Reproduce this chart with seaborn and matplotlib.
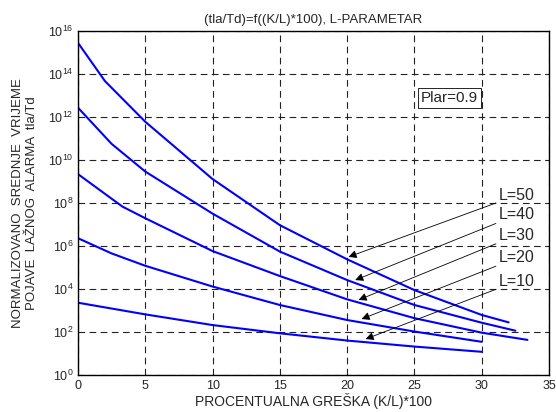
import numpy as np
import pandas as pd
import seaborn as sns
import matplotlib.pyplot as plt
from matplotlib.ticker import FixedLocator, NullLocator

# data (x = K/L*100, y = tla/Td)
x_l50 = [0, 2, 5, 10, 15, 20, 25, 30, 32]
y_l50 = [2.8e15, 4.7e13, 6.0e11, 1.3e9, 9.3e6, 2.4e5, 8.9e3, 6.2e2, 2.8e2]
x_l40 = [0, 2.5, 5, 10, 15, 20, 25, 30, 32.5]
y_l40 = [2.7e12, 5.6e10, 2.9e9, 3.2e7, 5.5e5, 2.6e4, 1.8e3, 2.7e2, 1.15e2]
x_l30 = [0, 3.3, 5, 10, 15, 20, 25, 30, 33.4]
y_l30 = [2.2e9, 6.8e7, 1.95e7, 5.8e5, 4.0e4, 3.3e3, 4.4e2, 93, 43]
x_l20 = [0, 2.5, 5, 10, 15, 20, 25, 30]
y_l20 = [2.3e6, 4.5e5, 1.2e5, 1.3e4, 1.8e3, 3.6e2, 1.05e2, 35]
x_l10 = [0, 5, 10, 15, 20, 25, 30]
y_l10 = [2.3e3, 6.6e2, 2.1e2, 87, 40, 21, 12]

labels = ['L=50', 'L=40', 'L=30', 'L=20', 'L=10']
label_pos = [2.3e8, 2.8e7, 3.2e6, 2.8e5, 2.3e4]
arrow_x = [20.1, 20.6, 20.85, 21.07, 21.37]
arrow_y = [3.1e5, 2.6e4, 3.1e3, 4.0e2, 47]

xs = [x_l50, x_l40, x_l30, x_l20, x_l10]
ys = [y_l50, y_l40, y_l30, y_l20, y_l10]
df = pd.concat([pd.DataFrame({'x': a, 'y': b, 'L': l}) for a, b, l in zip(xs, ys, labels)])

sns.set_style('white')
plt.rcParams['font.family'] = ['Liberation Sans', 'DejaVu Sans']
plt.rcParams['mathtext.fontset'] = 'custom'
plt.rcParams['mathtext.rm'] = 'Liberation Sans'
plt.rcParams['mathtext.it'] = 'Liberation Sans'

fig = plt.figure(figsize=(5.56, 4.12), dpi=100)
ax = fig.add_axes([0.1403, 0.0898, 0.8471, 0.835])

sns.lineplot(data=df, x='x', y='y', hue='L', palette=['#0000ff'] * 5,
             sort=False, linewidth=1.5, legend=False, ax=ax)

ax.set_yscale('log')
ax.set_xlim(0, 35)
ax.set_ylim(1, 1e16)
ax.xaxis.set_major_locator(FixedLocator(np.arange(0, 36, 5)))
ax.yaxis.set_major_locator(FixedLocator([10.0 ** k for k in range(0, 17, 2)]))
ax.yaxis.set_minor_locator(NullLocator())
ax.grid(True, color='#222222', linestyle=(0, (6, 4)), linewidth=0.8)
ax.tick_params(direction='in', labelsize=9, length=4, color='black')
for s in ax.spines.values():
    s.set_color('black')
    s.set_linewidth(1)

ax.set_xlabel('PROCENTUALNA GREŠKA (K/L)*100', fontsize=10, labelpad=1)
ax.set_ylabel('NORMALIZOVANO  SREDNJE  VRIJEME\nPOJAVE  LAŽNOG  ALARMA  tla/Td', fontsize=9.5, labelpad=7)
ax.set_title('(tla/Td)=f((K/L)*100), L-PARAMETAR', fontsize=9.5, pad=6)

for lab, ly, ax_, ay in zip(labels, label_pos, arrow_x, arrow_y):
    ax.annotate(lab, xy=(ax_, ay), xytext=(31.3, ly), fontsize=11.5, ha='left', va='center',
                arrowprops=dict(arrowstyle='-|>', color='black', lw=0.6,
                                shrinkA=0, shrinkB=0, mutation_scale=12))

ax.text(27.6, 10 ** 12.88, 'Plar=0.9', fontsize=11, ha='center', va='center',
        bbox=dict(boxstyle='square,pad=0.2', facecolor='white', edgecolor='black', lw=0.6))

fig.savefig('out.png', dpi=100)
